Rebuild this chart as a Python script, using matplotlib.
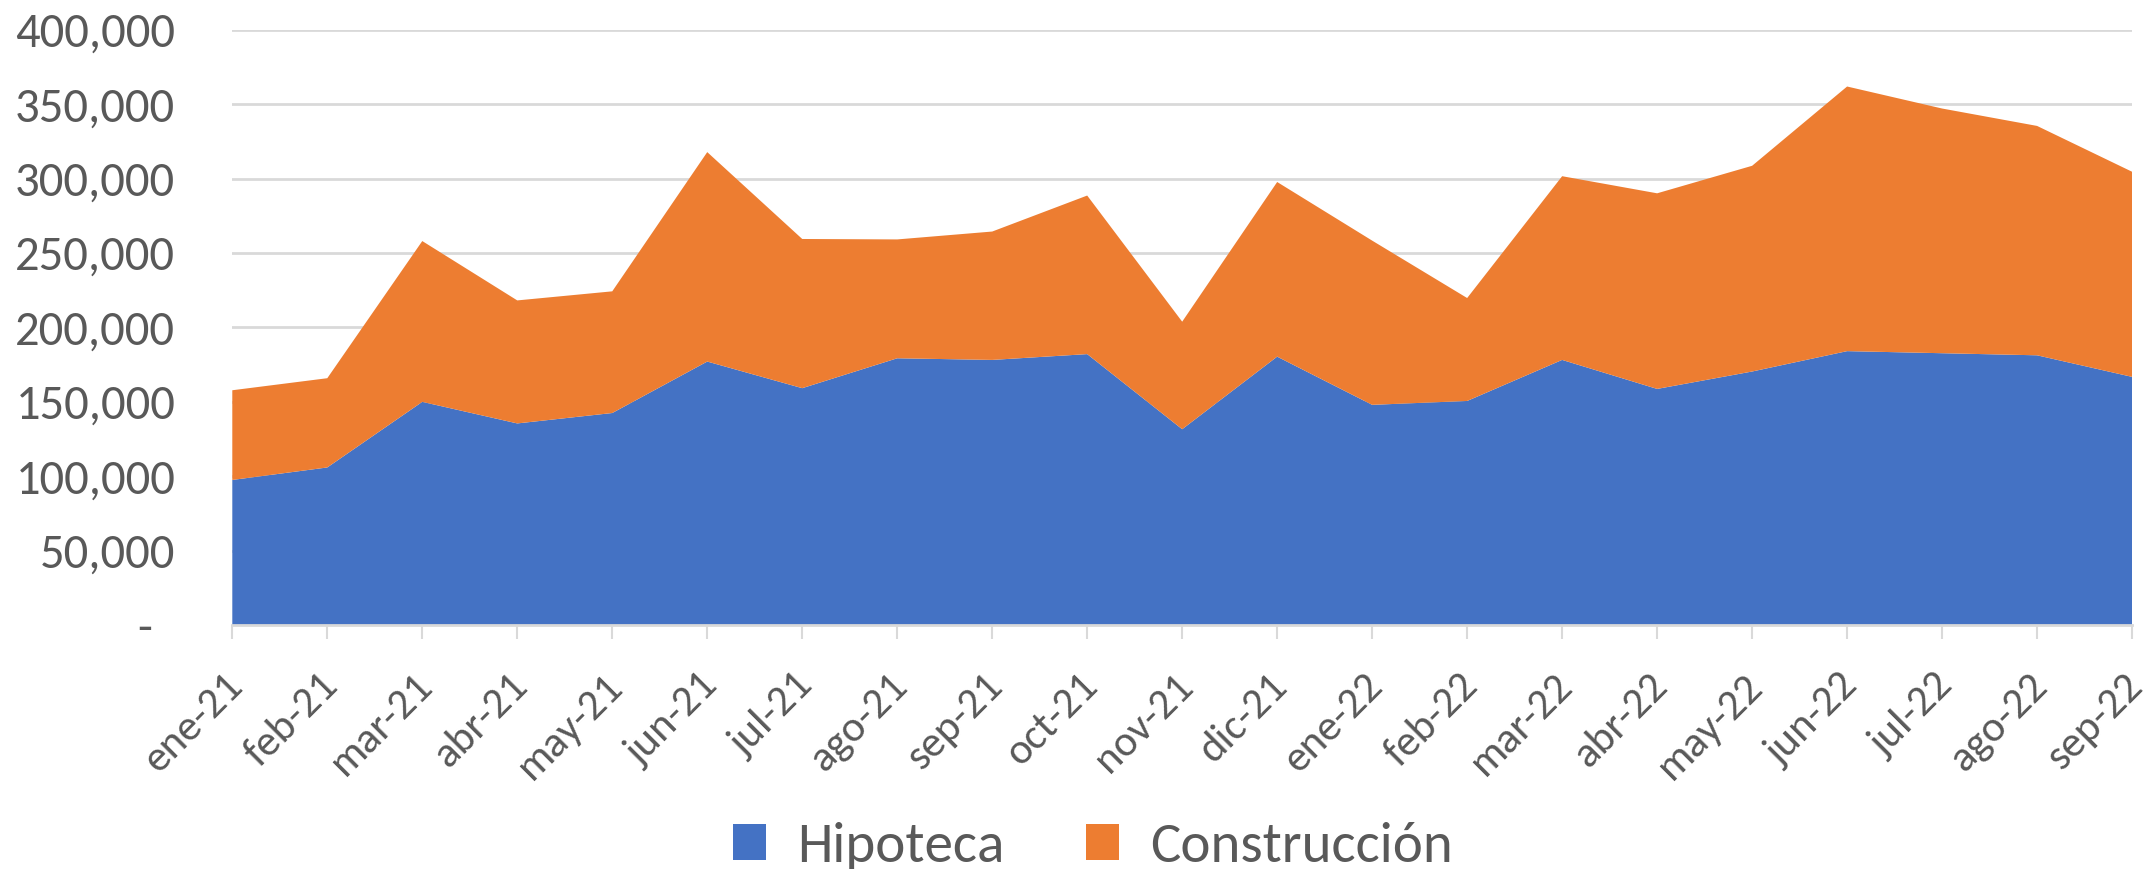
import matplotlib
matplotlib.use("Agg")
import matplotlib.pyplot as plt
import matplotlib.ticker as mticker
import matplotlib.transforms as mtransforms
import numpy as np

plt.rcParams["font.family"] = ["Carlito", "Liberation Sans", "DejaVu Sans"]

meses = ["ene-21", "feb-21", "mar-21", "abr-21", "may-21", "jun-21", "jul-21",
         "ago-21", "sep-21", "oct-21", "nov-21", "dic-21", "ene-22", "feb-22",
         "mar-22", "abr-22", "may-22", "jun-22", "jul-22", "ago-22", "sep-22"]

hipoteca = [97500, 105900, 150000, 135500, 142500, 177100, 159200, 179300,
            178200, 182100, 131600, 180400, 148000, 150600, 178200, 158700,
            170400, 184100, 182700, 181300, 166800]

total = [157800, 165900, 258100, 218200, 224300, 317900, 259500, 259200,
         264500, 288700, 203900, 297800, 258400, 219800, 301700, 290200,
         308700, 362000, 347200, 335500, 304700]

construccion = [t - h for t, h in zip(total, hipoteca)]

gris = "#595959"
azul = "#4472C4"
naranja = "#ED7D31"

fig = plt.figure(figsize=(21.43, 8.69), dpi=100)
ax = fig.add_axes([0.1084, 0.2808, 0.8865, 0.6847])

x = np.arange(len(meses))
ax.stackplot(x, hipoteca, construccion, colors=[azul, naranja],
             labels=["Hipoteca", "Construcción"], linewidth=0)

ax.set_xlim(0, len(meses) - 1)
ax.set_ylim(0, 400000)
ax.set_axisbelow(True)
ax.yaxis.grid(True, color="#d9d9d9", linewidth=2)

ax.yaxis.set_major_locator(mticker.MultipleLocator(50000))
ax.yaxis.set_major_formatter(
    mticker.FuncFormatter(lambda v, p: "-  " if v == 0 else f"{v:,.0f}"))
ax.tick_params(axis="y", length=0, pad=41, labelsize=35, labelcolor=gris)

ax.set_xticks(x)
ax.set_xticklabels(meses, rotation=45, ha="right", va="top",
                   rotation_mode="anchor")
ax.tick_params(axis="x", length=10, width=1.5, color="#d9d9d9",
               labelsize=31, labelcolor=gris, pad=20)
# nudge the rotated labels a little to the left so sep-22 fits
desplaza = mtransforms.ScaledTranslation(-9 / 100, 0, fig.dpi_scale_trans)
for lbl in ax.get_xticklabels():
    lbl.set_transform(lbl.get_transform() + desplaza)

for s in ["top", "right", "left"]:
    ax.spines[s].set_visible(False)
ax.spines["bottom"].set_color("#d9d9d9")
ax.spines["bottom"].set_linewidth(2)

leg = fig.legend(loc="center", bbox_to_anchor=(0.51, 0.026), ncol=2,
                 frameon=False, fontsize=41, handlelength=0.58,
                 handleheight=0.58, handletextpad=0.55, columnspacing=1.44)
for t in leg.get_texts():
    t.set_color(gris)

fig.savefig("out.png", dpi=100)
